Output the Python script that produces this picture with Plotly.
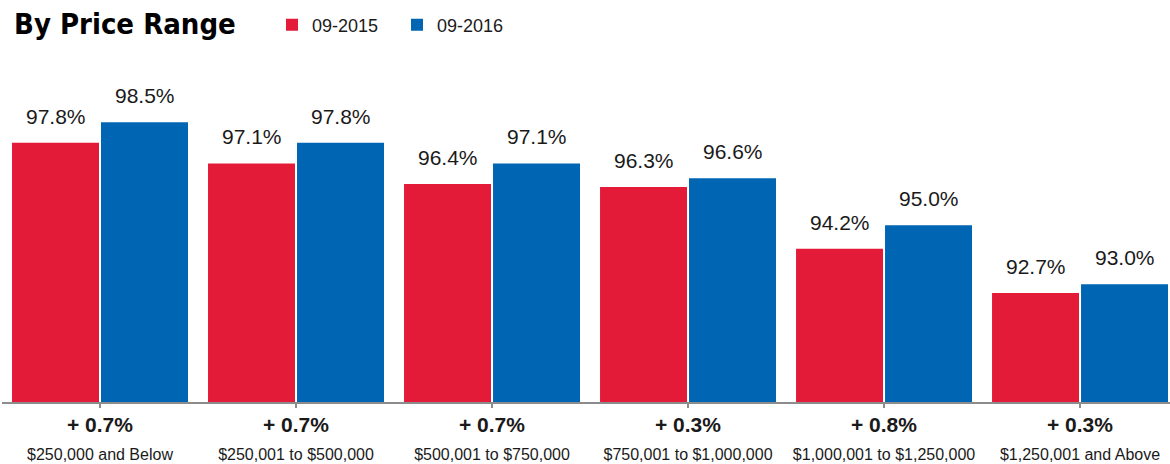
import plotly.graph_objects as go

categories = ["$250,000 and Below", "$250,001 to $500,000", "$500,001 to $750,000",
              "$750,001 to $1,000,000", "$1,000,001 to $1,250,000", "$1,250,001 and Above"]
series_names = ["09-2015", "09-2016"]
values_2015 = [97.8, 97.1, 96.4, 96.3, 94.2, 92.7]
values_2016 = [98.5, 97.8, 97.1, 96.6, 95.0, 93.0]

RED = "#E31B38"
BLUE = "#0065B2"
TEXT = "#1a1a1a"
BASE_FONT = "Liberation Sans, Arial, Helvetica, sans-serif"
TITLE_FONT = "DejaVu Sans Condensed, Liberation Sans Narrow, Arial Narrow, sans-serif"

x_idx = list(range(len(categories)))

fig = go.Figure()
fig.add_trace(go.Bar(x=x_idx, y=values_2015, name=series_names[0],
                     marker=dict(color=RED, line=dict(width=0))))
fig.add_trace(go.Bar(x=x_idx, y=values_2016, name=series_names[1],
                     marker=dict(color=BLUE, line=dict(width=0))))

annotations = []
for i, (a, b) in enumerate(zip(values_2015, values_2016)):
    annotations.append(dict(x=i, y=a, xref="x", yref="y", xshift=-44.5, yshift=13,
                            text=f"{a:.1f}%", showarrow=False, yanchor="bottom",
                            font=dict(size=21, color=TEXT, family=BASE_FONT)))
    annotations.append(dict(x=i, y=b, xref="x", yref="y", xshift=44.5, yshift=13,
                            text=f"{b:.1f}%", showarrow=False, yanchor="bottom",
                            font=dict(size=21, color=TEXT, family=BASE_FONT)))
    diff = round(b - a, 1)
    sign = "+" if diff >= 0 else "-"
    annotations.append(dict(x=i, y=0, xref="x", yref="paper", yshift=-22.5,
                            text=f"<b>{sign} {abs(diff):.1f}%</b>", showarrow=False,
                            yanchor="middle",
                            font=dict(size=21, color=TEXT, family=BASE_FONT)))

fig.update_layout(
    width=1170, height=464,
    margin=dict(l=2, r=0, t=78, b=62),
    paper_bgcolor="white", plot_bgcolor="white",
    barmode="group", bargap=0.092, bargroupgap=0.0225,
    title=dict(text="<b>By Price Range</b>", x=14 / 1170, xanchor="left", xref="container",
               y=1 - 24 / 464, yanchor="middle", yref="container",
               font=dict(size=29, color="#000000", family=TITLE_FONT)),
    legend=dict(orientation="h", x=272 / 1170, xref="container", xanchor="left",
                y=1 - 25 / 464, yref="container", yanchor="middle",
                font=dict(size=18, color=TEXT, family=BASE_FONT),
                entrywidth=80, entrywidthmode="pixels",
                bgcolor="rgba(0,0,0,0)", borderwidth=0),
    showlegend=True,
    xaxis=dict(range=[-0.5, 5.459], tickmode="array", tickvals=x_idx, ticktext=categories,
               showline=True, linecolor="#8c8c8c", linewidth=2, automargin=False,
               ticks="outside", tickson="boundaries", ticklen=4, tickwidth=2, tickcolor="#8c8c8c",
               ticklabelstandoff=33, showgrid=False, zeroline=False,
               tickfont=dict(size=16, color=TEXT, family=BASE_FONT)),
    yaxis=dict(range=[89, 100], visible=False, showgrid=False, zeroline=False, automargin=False),
    annotations=annotations,
)

fig.write_html("out.html", config={"displayModeBar": False},
               post_script="document.body.style.margin='0';document.body.style.overflow='hidden';")
